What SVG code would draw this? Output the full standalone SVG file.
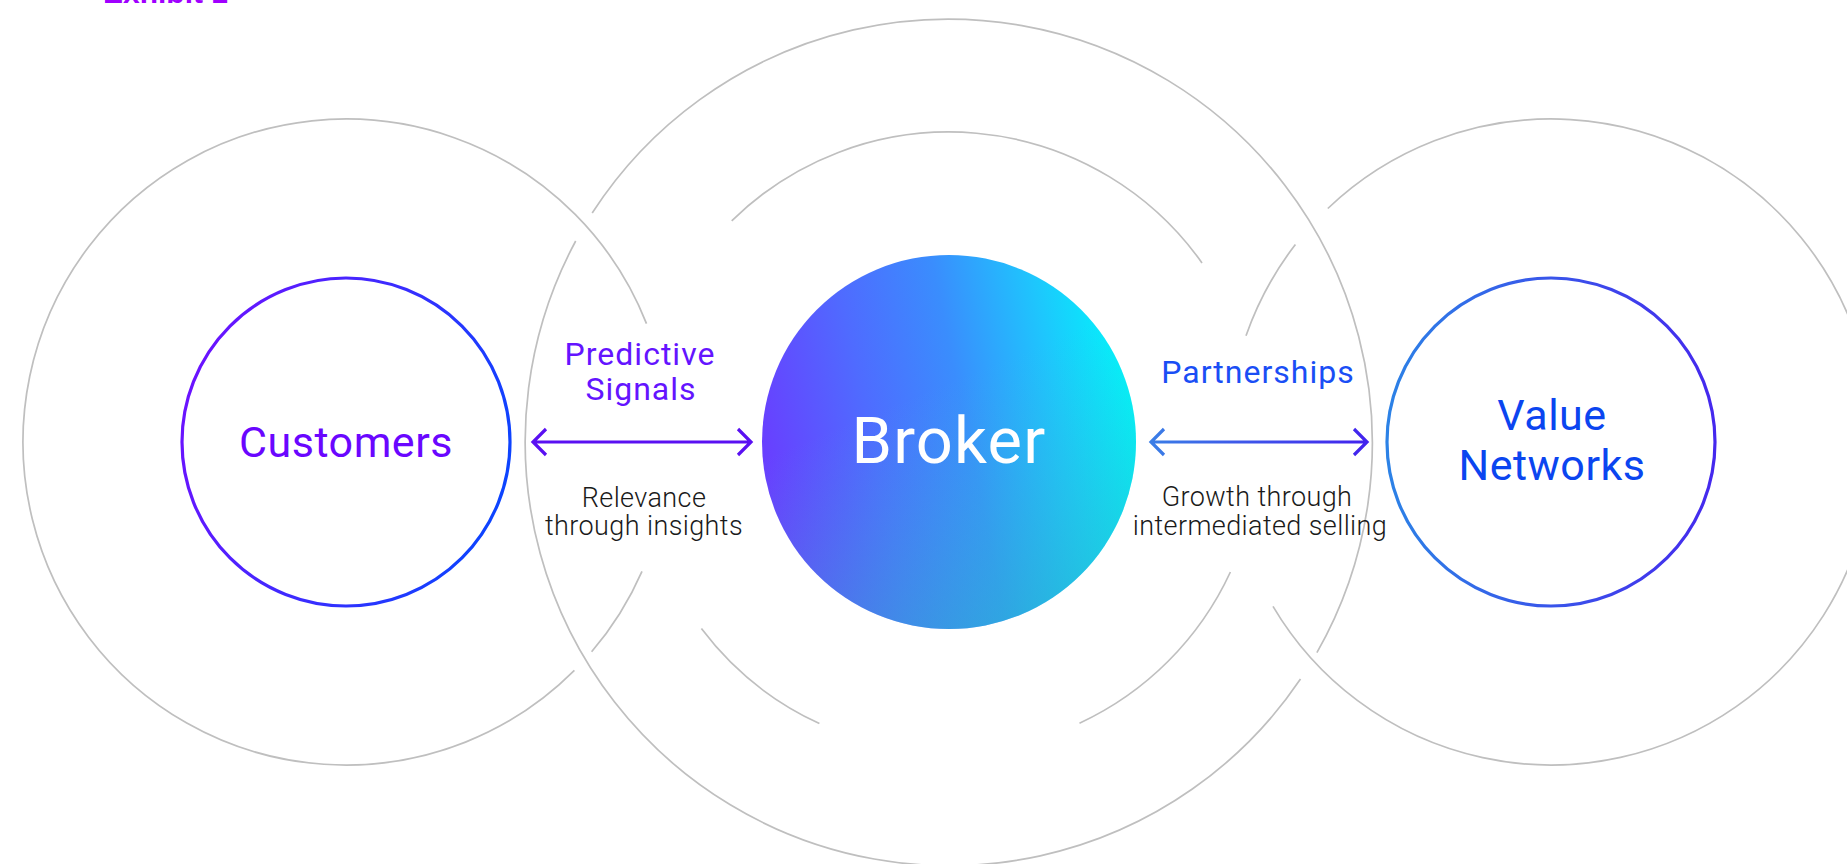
<svg xmlns="http://www.w3.org/2000/svg" width="1847" height="864" viewBox="0 0 1847 864">
  <defs>
    <style>
      .ring { fill: none; stroke: #bfbfbf; stroke-width: 1.7; }
      .node-ring { fill: #ffffff; stroke-width: 3.2; }
      .title { font-family: "Roboto", "Liberation Sans", sans-serif; font-size: 43px; text-anchor: middle; letter-spacing: 0.5px; }
      .rel { font-family: "Roboto", "Liberation Sans", sans-serif; font-size: 32px; text-anchor: middle; letter-spacing: 1px; }
      .desc { font-family: "Roboto", "Liberation Sans", sans-serif; font-size: 27px; font-weight: 300; fill: #1a1a1a; text-anchor: middle; letter-spacing: 0.4px; }
      .arrow { fill: none; stroke-width: 3.2; stroke-linejoin: miter; stroke-linecap: butt; }
    </style>
    <linearGradient id="gCust" x1="0" y1="0.35" x2="1" y2="0.65">
      <stop offset="0" stop-color="#6c12ff"/>
      <stop offset="1" stop-color="#0a45ff"/>
    </linearGradient>
    <linearGradient id="gValue" x1="0" y1="0.5" x2="1" y2="0.5">
      <stop offset="0" stop-color="#2c82e6"/>
      <stop offset="1" stop-color="#4528ee"/>
    </linearGradient>
    <linearGradient id="gBroker" x1="0" y1="0.6" x2="1" y2="0.4">
      <stop offset="0" stop-color="#6a3cff"/>
      <stop offset="0.3" stop-color="#4f6bff"/>
      <stop offset="0.55" stop-color="#3a8dfd"/>
      <stop offset="0.8" stop-color="#1ec6fd"/>
      <stop offset="1" stop-color="#02f4fb"/>
    </linearGradient>
    <linearGradient id="gBrokerShade" x1="0.35" y1="0.4" x2="0.6" y2="1">
      <stop offset="0" stop-color="#30c8c8" stop-opacity="0"/>
      <stop offset="1" stop-color="#22c4c0" stop-opacity="0.45"/>
    </linearGradient>
    <linearGradient id="gArrowR" gradientUnits="userSpaceOnUse" x1="1150" y1="442" x2="1368" y2="442">
      <stop offset="0" stop-color="#3a7ee6"/>
      <stop offset="1" stop-color="#4222ee"/>
    </linearGradient>
  </defs>

  <rect x="0" y="0" width="1847" height="864" fill="#ffffff"/>

  <text x="103" y="3" font-family="Liberation Sans, sans-serif" font-size="30" font-weight="bold" fill="#a000ff">Exhibit 1</text>

  <g id="rings">
    <!-- left outer ring -->
    <path class="ring" d="M 574.4 670.4 A 323 323 0 1 1 646.5 323.6"/>
    <path class="ring" d="M 642 571.3 A 323 323 0 0 1 591.6 651.8"/>
    <!-- big central ring -->
    <path class="ring" d="M 592.2 213 A 424 424 0 0 1 1316.9 652.7"/>
    <path class="ring" d="M 1300.5 679.1 A 424 424 0 0 1 575.7 241"/>
    <!-- right outer ring -->
    <path class="ring" d="M 1327.8 208.5 A 323 323 0 1 1 1273 606.4"/>
    <path class="ring" d="M 1246 335.8 A 323 323 0 0 1 1295.4 244.5"/>
    <!-- inner ring arcs around broker -->
    <path class="ring" d="M 731.7 220.9 A 310 310 0 0 1 1202 262.9"/>
    <path class="ring" d="M 819.4 723.6 A 310 310 0 0 1 701.4 628.6"/>
    <path class="ring" d="M 1230.4 572 A 310 310 0 0 1 1079.5 723.2"/>
  </g>

  <g id="node-customers">
    <circle class="node-ring" cx="346" cy="442" r="164" stroke="url(#gCust)"/>
    <text class="title" x="346" y="457" fill="#6a06ff">Customers</text>
  </g>

  <g id="node-broker">
    <circle cx="949" cy="442" r="187" fill="url(#gBroker)"/>
    <circle cx="949" cy="442" r="187" fill="url(#gBrokerShade)"/>
    <text x="949" y="463" font-family="Roboto, Liberation Sans, sans-serif" font-size="65" letter-spacing="1.2" fill="#ffffff" text-anchor="middle">Broker</text>
  </g>

  <g id="node-value-networks">
    <circle class="node-ring" cx="1551" cy="442" r="164" stroke="url(#gValue)"/>
    <text class="title" x="1552" y="430" fill="#0b45f0" font-size="42">Value</text>
    <text class="title" x="1552" y="480" fill="#0b45f0" font-size="42">Networks</text>
  </g>

  <g id="connectors">
    <g id="edge-customers-broker">
      <path class="arrow" stroke="#5a10f2" d="M 546 429 L 533 442 L 546 455 M 533 442 L 751 442 M 738 429 L 751 442 L 738 455"/>
      <text class="rel" x="640" y="365" fill="#6414ff">Predictive</text>
      <text class="rel" x="641" y="400" fill="#6414ff">Signals</text>
      <text class="desc" x="644" y="507">Relevance</text>
      <text class="desc" x="644" y="535">through insights</text>
    </g>
    <g id="edge-broker-value">
      <path class="arrow" stroke="url(#gArrowR)" d="M 1164 429 L 1151 442 L 1164 455 M 1151 442 L 1367 442 M 1354 429 L 1367 442 L 1354 455"/>
      <text class="rel" x="1258" y="383" fill="#1a4ef5">Partnerships</text>
      <text class="desc" x="1257" y="506">Growth through</text>
      <text class="desc" x="1260" y="535">intermediated selling</text>
    </g>
  </g>
</svg>
